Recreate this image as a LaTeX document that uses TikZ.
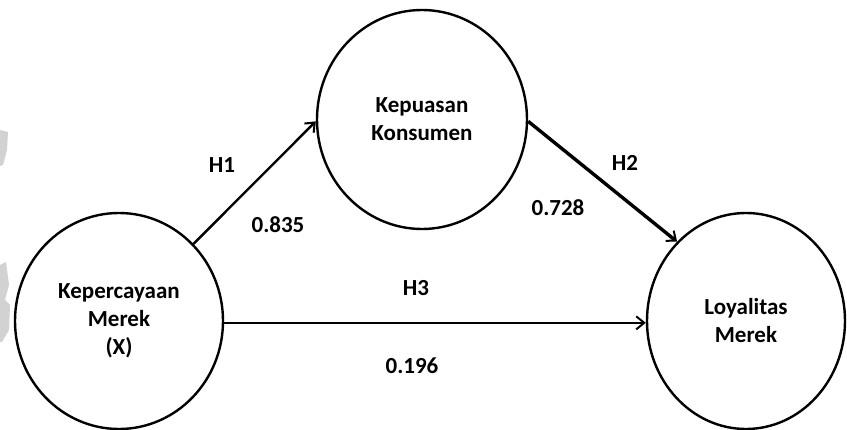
\documentclass[tikz,border=0pt]{standalone}
\usepackage{fontspec}
\setmainfont{Carlito}
\usetikzlibrary{shapes.geometric,arrows.meta}
\tikzset{
  construct/.style={ellipse, draw=black, line width=2.4pt, fill=white, inner sep=0pt,
    align=center, font=\fontsize{23}{28}\selectfont\bfseries},
  path/.style={line width=2.4pt, -{Straight Barb[length=8pt,width=13pt,line width=2pt]}},
  coef/.style={font=\fontsize{23}{28}\selectfont\bfseries, inner sep=0pt}
}
\begin{document}
\begin{tikzpicture}[x=1pt,y=-1pt]
\useasboundingbox (0,0) rectangle (847,430);
\fill[white] (0,0) rectangle (847,430);
% faint grey marks on the left border
\fill[gray!35] (0,130) -- (8,132) -- (7,150) -- (3,165) -- (0,166) -- cycle;
\fill[gray!35] (0,265) -- (6,262) -- (9,285) -- (5,300) -- (10,305) -- (9,330) -- (2,342) -- (0,342) -- cycle;

\node[construct, minimum width=208pt, minimum height=216pt] (X) at (119,321)
  {Kepercayaan\\Merek\\(X)};
\node[construct, minimum width=210pt, minimum height=219pt] (K) at (422,119.5)
  {Kepuasan\\Konsumen};
\node[construct, minimum width=198pt, minimum height=216pt] (Y) at (746,321)
  {Loyalitas\\Merek};

\draw[path] (X.46) -- (K.181);
\draw[path, line width=3.4pt] (K.359) -- (Y.131);
\draw[path] (X.-1) -- (X.-1 -| Y.west);

\node[coef] (h1) at (222,165) {H1};
\node[coef] (b1) at (278,225) {0.835};
\node[coef] (h2) at (625,163) {H2};
\node[coef] (b2) at (558,208) {0.728};
\node[coef] (h3) at (416,288) {H3};
\node[coef] (b3) at (412,366) {0.196};
\end{tikzpicture}
\end{document}
